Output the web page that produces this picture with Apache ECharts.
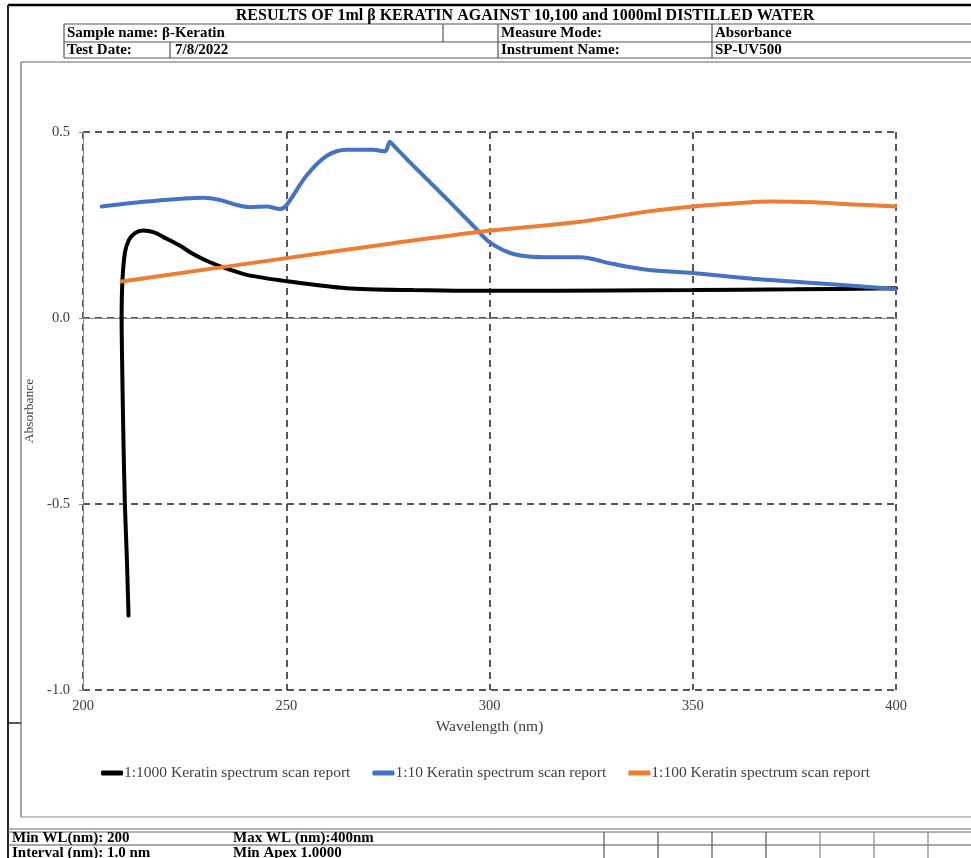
<!DOCTYPE html>
<html>
<head>
<meta charset="utf-8">
<script src="https://cdn.jsdelivr.net/npm/echarts@6/dist/echarts.min.js"></script>
<style>html,body{margin:0;padding:0;background:#fff}#c{width:971px;height:858px}</style>
</head>
<body>
<div id="c"></div>
<script>
// ---- data ----
var seriesNames = ['1:1000 Keratin spectrum scan report', '1:10 Keratin spectrum scan report', '1:100 Keratin spectrum scan report'];
var xTicks = [200, 250, 300, 350, 400];
var yTicks = [-1.0, -0.5, 0.0, 0.5];

var wl1000 = [211.2, 210.8, 210.3, 209.9, 209.6, 209.5, 209.7, 210.3, 211.3, 212.8, 214.8, 217.5, 220.6, 223.9, 227.1, 230.4, 234.5, 240.3, 250.1, 264.8, 281.2, 302.6, 330, 350, 375, 400];
var abs1000 = [-0.80, -0.65, -0.50, -0.30, -0.10, 0.00, 0.10, 0.175, 0.21, 0.228, 0.235, 0.230, 0.213, 0.194, 0.172, 0.154, 0.136, 0.116, 0.099, 0.080, 0.075, 0.073, 0.074, 0.075, 0.077, 0.080];

var wl10 = [204.6, 215.7, 229.6, 233.7, 237.8, 241.1, 245.2, 248.5, 250.1, 255.0, 260.0, 264.9, 271.4, 274.3, 275.5, 276.3, 281.3, 289.5, 296.0, 300.1, 305.9, 314.1, 322.3, 330.5, 338.7, 350.1, 363.3, 379.7, 399.8];
var abs10 = [0.300, 0.313, 0.323, 0.317, 0.304, 0.298, 0.300, 0.293, 0.304, 0.383, 0.436, 0.452, 0.452, 0.448, 0.474, 0.465, 0.409, 0.320, 0.248, 0.203, 0.172, 0.163, 0.163, 0.145, 0.130, 0.121, 0.107, 0.094, 0.078];

var wl100 = [209.5, 230, 250.1, 275, 297.7, 322.3, 338.7, 350.1, 360, 369, 379.6, 390, 399.8];
var abs100 = [0.098, 0.130, 0.161, 0.199, 0.232, 0.259, 0.286, 0.300, 0.308, 0.313, 0.311, 0.305, 0.300];

var colors = ['#000000', '#4472C4', '#ED7D31'];

function pairs(xs, ys) { return xs.map(function (x, i) { return [x, ys[i]]; }); }

var serif = '"Liberation Serif","Times New Roman",serif';

function L(x1, y1, x2, y2, w, c) {
  return { type: 'line', silent: true, shape: { x1: x1, y1: y1, x2: x2, y2: y2 }, style: { stroke: c || '#555', lineWidth: w || 1 } };
}
function T(x, y, text, opts) {
  opts = opts || {};
  return { type: 'text', silent: true, x: x, y: y, style: { text: text, fill: '#000', font: (opts.bold === false ? '' : 'bold ') + (opts.size || 13) + 'px ' + serif, textAlign: opts.align || 'left', textVerticalAlign: 'middle' } };
}

var graphics = [
  // outer frame
  L(8, 5, 971, 5, 2.5, '#000'),
  L(8, 5, 8, 858, 2, '#222'),
  // header table
  L(64, 24, 971, 24, 1.2), L(64, 42, 971, 42, 1.2), L(64, 58, 971, 58, 1.2),
  L(64, 24, 64, 58, 1.2), L(443, 24, 443, 42, 1.2), L(498, 24, 498, 58, 1.2), L(712, 24, 712, 58, 1.2), L(170, 42, 170, 58, 1.2),
  // inner frame
  L(21, 62, 971, 62, 1.2, '#666'), L(21, 62, 21, 817, 1.2, '#666'), L(21, 817, 971, 817, 1.2, '#888'),
  L(8, 723, 21, 723, 1.5, '#222'),
  // bottom table
  L(8, 829, 971, 829, 1, '#666'), L(8, 832, 971, 832, 1, '#666'), L(8, 845, 971, 845, 1.2, '#555'),
  L(604, 832, 604, 858, 1.2), L(658, 832, 658, 858, 1.2), L(712, 832, 712, 858, 1.2), L(766, 832, 766, 858, 1.2),
  L(820, 832, 820, 858, 1.2, '#888'), L(874, 832, 874, 858, 1.2, '#888'), L(928, 832, 928, 858, 1.2, '#888'),
  // texts
  T(525, 16, 'RESULTS OF 1ml β KERATIN AGAINST 10,100 and 1000ml DISTILLED WATER', { align: 'center', size: 16 }),
  T(67, 33.5, 'Sample name: β-Keratin', { size: 15 }),
  T(501, 33.5, 'Measure Mode:', { size: 15 }),
  T(715, 33.5, 'Absorbance', { size: 15 }),
  T(67, 50.5, 'Test Date:', { size: 15 }),
  T(175, 50.5, '7/8/2022', { size: 15 }),
  T(501, 50.5, 'Instrument Name:', { size: 15 }),
  T(715, 50.5, 'SP-UV500', { size: 15 }),
  T(12, 838, 'Min WL(nm): 200', { size: 15 }),
  T(233, 838, 'Max WL (nm):400nm', { size: 15 }),
  T(12, 853, 'Interval (nm): 1.0 nm', { size: 15 }),
  T(233, 853, 'Min Apex 1.0000', { size: 15 })
];

var chart = echarts.init(document.getElementById('c'), null, { renderer: 'canvas' });
chart.setOption({
  animation: false,
  backgroundColor: '#fff',
  color: colors,
  graphic: graphics,
  grid: { left: 83, right: 75, top: 132, bottom: 168, containLabel: false },
  legend: {
    top: 760,
    left: 'center',
    itemWidth: 22,
    itemHeight: 5,
    itemGap: 22,
    icon: 'roundRect',
    data: seriesNames,
    textStyle: { fontFamily: serif, fontSize: 15.5, color: '#404040', padding: [0, 0, 0, -4] }
  },
  xAxis: {
    type: 'value',
    min: xTicks[0], max: xTicks[xTicks.length - 1], interval: 50,
    name: 'Wavelength (nm)', nameLocation: 'middle', nameGap: 29,
    nameTextStyle: { fontFamily: serif, fontSize: 15.5, color: '#404040' },
    axisLine: { show: true, lineStyle: { color: '#888', width: 1 } },
    axisTick: { show: false },
    axisLabel: { fontFamily: serif, fontSize: 14.5, color: '#404040', margin: 9 },
    splitLine: { show: true, lineStyle: { color: '#222', type: [7, 5], width: 1.5 } }
  },
  yAxis: {
    type: 'value',
    min: yTicks[0], max: yTicks[yTicks.length - 1], interval: 0.5,
    name: 'Absorbance', nameLocation: 'middle', nameGap: 44, nameRotate: 90,
    nameTextStyle: { fontFamily: serif, fontSize: 13.5, color: '#404040' },
    axisLine: { show: true, lineStyle: { color: '#888', width: 1 } },
    axisTick: { show: true, length: 4, lineStyle: { color: '#888' } },
    axisLabel: { fontFamily: serif, fontSize: 14.5, color: '#404040', margin: 13, formatter: function (v) { return v.toFixed(1); } },
    splitLine: { show: true, lineStyle: { color: '#222', type: [7, 5], width: 1.5 } }
  },
  series: [
    { name: seriesNames[0], type: 'line', data: pairs(wl1000, abs1000), showSymbol: false, smooth: 0.3, lineStyle: { width: 4, color: colors[0], cap: 'round' }, itemStyle: { color: colors[0] } },
    { name: seriesNames[1], type: 'line', data: pairs(wl10, abs10), showSymbol: false, smooth: 0.3, lineStyle: { width: 4, color: colors[1], cap: 'round' }, itemStyle: { color: colors[1] } },
    { name: seriesNames[2], type: 'line', data: pairs(wl100, abs100), showSymbol: false, smooth: 0.3, lineStyle: { width: 4, color: colors[2], cap: 'round' }, itemStyle: { color: colors[2] } }
  ]
});
</script>
</body>
</html>
